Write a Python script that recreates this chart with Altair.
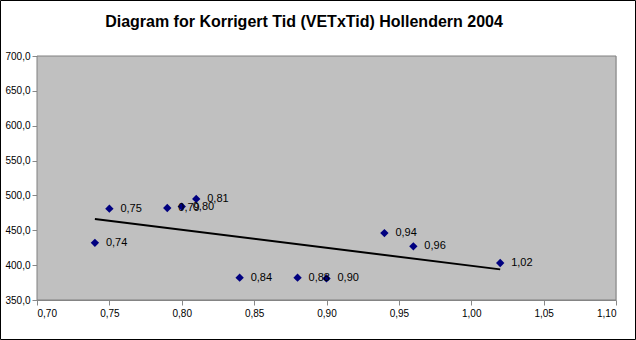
import altair as alt
import pandas as pd

# Data
vet = [0.74, 0.75, 0.79, 0.80, 0.81, 0.84, 0.88, 0.90, 0.94, 0.96, 1.02]
tid = [432, 481, 482, 484, 495, 382, 382, 381, 446, 427, 403]
x_ticks = [0.70, 0.75, 0.80, 0.85, 0.90, 0.95, 1.00, 1.05, 1.10]
y_ticks = [350, 400, 450, 500, 550, 600, 650, 700]
title_text = "Diagram for Korrigert Tid (VETxTid) Hollendern 2004"

df = pd.DataFrame({"vet": vet, "tid": tid})

FONT = "Liberation Sans"
W, H = 579, 244

xs = alt.Scale(domain=[0.70, 1.10], nice=False, zero=False)
ys = alt.Scale(domain=[350, 700], nice=False, zero=False)

xaxis = alt.Axis(values=x_ticks, title=None, grid=False,
                 labelExpr="replace(format(datum.value, '.2f'), '.', ',')",
                 labelPadding=3)
yaxis = alt.Axis(values=y_ticks, title=None, grid=False,
                 labelExpr="replace(format(datum.value, '.1f'), '.', ',')",
                 labelPadding=2)

X = alt.X("vet:Q", scale=xs, axis=xaxis)
Y = alt.Y("tid:Q", scale=ys, axis=yaxis)

base = alt.Chart(df)

points = base.mark_point(shape="diamond", filled=True, color="#000080",
                         size=70, opacity=1).encode(x=X, y=Y)

labels = base.transform_calculate(
    lbl="replace(format(datum.vet, '.2f'), '.', ',')"
).mark_text(align="left", baseline="middle", dx=11, font=FONT,
            fontSize=11, color="black").encode(x=X, y=Y, text="lbl:N")

trend = base.transform_regression("vet", "tid").mark_line(
    color="black", strokeWidth=2).encode(x=X, y=Y)

one = alt.Chart(pd.DataFrame({"a": [0]}))
plotbg = one.mark_rect(fill="#C0C0C0", stroke="#808080", strokeWidth=1).encode(
    x=alt.value(0), x2=alt.value(W),
    y=alt.value(0), y2=alt.value(H),
)
border = one.mark_rect(fill="transparent", stroke="black", strokeWidth=1).encode(
    x=alt.value(-36.5), x2=alt.value(598.5),
    y=alt.value(-55.5), y2=alt.value(283.5),
)
title = one.mark_text(font=FONT, fontSize=16, fontWeight="bold", color="black",
                      align="center", baseline="middle").encode(
    x=alt.value(304 - 37), y=alt.value(22 - 56), text=alt.value(title_text)
)

chart = alt.layer(plotbg, trend, points, labels, title, border).properties(
    width=W, height=H,
    autosize=alt.AutoSizeParams(type="none"),
    padding={"left": 37, "top": 56, "right": 20, "bottom": 40},
).configure_view(stroke="transparent").configure_axis(
    domainColor="black", tickColor="black", tickSize=4,
    labelFont=FONT, labelFontSize=11, labelColor="black",
    labelFlush=False, labelOverlap=False,
).configure(background="white")

chart.save("out.html", embed_options={"renderer": "svg", "actions": False})
